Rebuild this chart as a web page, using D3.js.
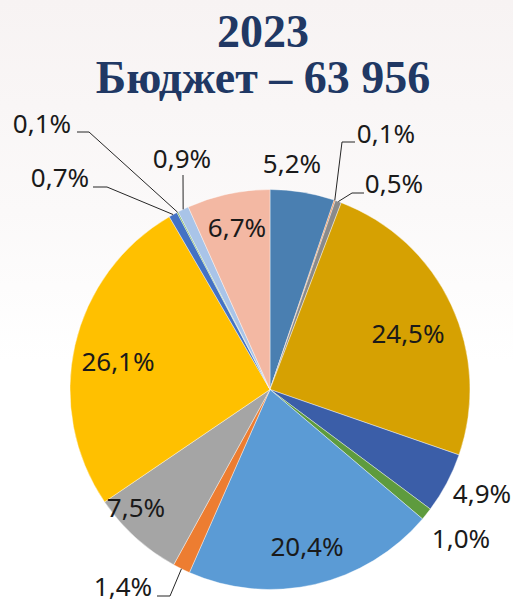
<!DOCTYPE html>
<html>
<head>
<meta charset="utf-8">
<script src="https://cdn.jsdelivr.net/npm/d3@7"></script>
<style>
  html, body { margin: 0; padding: 0; background: #fff; }
  svg { display: block; }
</style>
</head>
<body>
<svg id="chart"></svg>
<script>
// budget 2023 shares, clockwise from 12 o'clock
const labels = ["5,2%", "0,1%", "0,5%", "24,5%", "4,9%", "1,0%", "20,4%", "1,4%", "7,5%", "26,1%", "0,7%", "0,1%", "0,9%", "6,7%"];
const shares = [5.2, 0.1, 0.5, 24.5, 4.9, 1.0, 20.4, 1.4, 7.5, 26.1, 0.7, 0.1, 0.9, 6.7];
const colors = ["#4a7fb1", "#ed7d31", "#8a8a8a", "#d6a102", "#3b5ea8", "#5e9b3e", "#5b9bd5",
  "#ed7d31", "#a5a5a5", "#ffc000", "#4472c4", "#70ad47", "#a9c4e8", "#f3b8a3"];
const titleLines = ["2023", "Бюджет – 63 956"];

// label layout: text centre [x, y] and optional leader [elbowX, elbowY, endX]
const labelAt = [[292, 164], [386, 134], [394, 184], [408, 334], [482, 494], [461, 539],
  [307, 547], [123, 587], [136, 508], [118, 362], [60, 178], [42, 124], [182, 159], [237, 228]];
const leaders = [null, [342, 142, 355], [352, 193, 364], null, null, null, null,
  [170, 596, 157], null, null, [107, 187, 93], [89, 132, 77], [183, 175, 183], null];

const width = 513;
const height = 603;
const cx = 270;
const cy = 389.5;
const radius = 200;

const svg = d3.select("#chart")
  .attr("width", width)
  .attr("height", height);

// faint backdrop
const defs = svg.append("defs");
const grad = defs.append("linearGradient")
  .attr("id", "bg")
  .attr("x1", 0).attr("y1", 0).attr("x2", 0).attr("y2", 1);
grad.append("stop").attr("offset", "0%").attr("stop-color", "#f7f3f3");
grad.append("stop").attr("offset", "35%").attr("stop-color", "#fbf9f9");
grad.append("stop").attr("offset", "60%").attr("stop-color", "#ffffff");
svg.append("rect")
  .attr("width", width)
  .attr("height", height)
  .attr("fill", "url(#bg)");

// title
svg.append("g")
  .selectAll("text")
  .data(titleLines)
  .enter()
  .append("text")
  .attr("x", 263)
  .attr("y", (d, i) => 47 + i * 46)
  .attr("text-anchor", "middle")
  .style("font-family", "'Liberation Serif', 'Times New Roman', serif")
  .style("font-weight", "bold")
  .style("font-size", "46px")
  .style("fill", "#203864")
  .text((d) => d);

// pie
const pie = d3.pie().sort(null).value((d) => d);
const arcs = pie(shares);
const arc = d3.arc().innerRadius(0).outerRadius(radius);

const g = svg.append("g")
  .attr("transform", `translate(${cx}, ${cy})`);

g.selectAll("path")
  .data(arcs)
  .enter()
  .append("path")
  .attr("d", arc)
  .attr("fill", (d, i) => colors[i])
  .attr("stroke", "#ffffff")
  .attr("stroke-width", 0.4);

// leader lines from slice edge
const edge = (d) => {
  const a = (d.startAngle + d.endAngle) / 2;
  return [cx + radius * Math.sin(a), cy - radius * Math.cos(a)];
};
svg.append("g")
  .selectAll("polyline")
  .data(arcs.filter((d, i) => leaders[i]))
  .enter()
  .append("polyline")
  .attr("points", (d) => {
    const l = leaders[d.index];
    const p = edge(d);
    return [p, [l[0], l[1]], [l[2], l[1]]].map((q) => q.join(",")).join(" ");
  })
  .attr("fill", "none")
  .attr("stroke", "#262626")
  .attr("stroke-width", 1);

// value labels
svg.append("g")
  .selectAll("text")
  .data(labels)
  .enter()
  .append("text")
  .attr("x", (d, i) => labelAt[i][0])
  .attr("y", (d, i) => labelAt[i][1])
  .attr("dy", "0.36em")
  .attr("text-anchor", "middle")
  .style("font-family", "'Noto Sans', 'Open Sans', sans-serif")
  .style("font-size", "26px")
  .style("fill", "#1a1a1a")
  .text((d) => d);
</script>
</body>
</html>
